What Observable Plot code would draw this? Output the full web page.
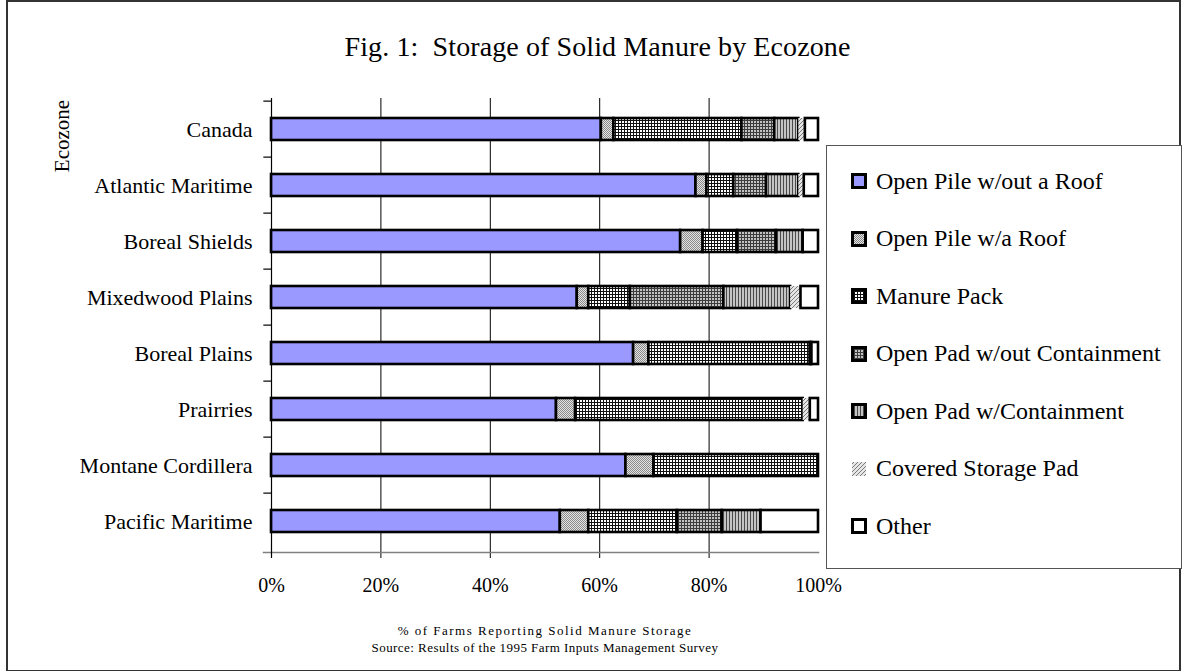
<!DOCTYPE html>
<html>
<head>
<meta charset="utf-8">
<script src="https://cdn.jsdelivr.net/npm/d3@7"></script>
<script src="https://cdn.jsdelivr.net/npm/@observablehq/plot@0.6"></script>
<style>
  html, body { margin: 0; padding: 0; background: #fff; }
  #wrap { position: relative; width: 1187px; height: 671px; overflow: hidden; font-family: "Liberation Serif", "Times New Roman", serif; color: #000; }
  #frame { position: absolute; left: 6px; top: 0px; width: 1171px; height: 668px; border: 2px solid #333; box-sizing: content-box; }
  #title { position: absolute; left: 0; width: 1195px; top: 30px; text-align: center; font-size: 28px; line-height: 34px; letter-spacing: 0.1px; }
  #chart { position: absolute; left: 0; top: 0; }
  #ytitle { position: absolute; left: 62px; top: 136px; transform: translate(-50%, -50%) rotate(-90deg); font-size: 21px; white-space: nowrap; }
  #xtitle { position: absolute; left: 545px; top: 631px; transform: translate(-50%, -50%); font-size: 13px; letter-spacing: 1.5px; white-space: nowrap; }
  #source { position: absolute; left: 545px; top: 648px; transform: translate(-50%, -50%); font-size: 13px; letter-spacing: 0.45px; white-space: nowrap; }
  #legend { position: absolute; left: 826px; top: 145px; width: 354px; height: 422px; border: 1px solid #555; background: #fff; }
  .item { position: absolute; left: 24px; height: 30px; display: flex; align-items: center; font-family: "Liberation Serif", "Times New Roman", serif; font-size: 24px; white-space: nowrap; }
  .item svg { margin-right: 9px; }
</style>
</head>
<body>
<div id="wrap">
  <svg width="0" height="0" style="position:absolute">
    <defs>
      <pattern id="pRoof" width="2" height="2" patternUnits="userSpaceOnUse">
        <rect width="2" height="2" fill="#e4e4e4"/>
        <rect width="1" height="1" fill="#8a8a8a"/>
        <rect x="1" y="1" width="1" height="1" fill="#8a8a8a"/>
      </pattern>
      <pattern id="pPack" width="3" height="3" patternUnits="userSpaceOnUse">
        <rect width="3" height="3" fill="#ffffff"/>
        <rect width="3" height="1" fill="#111"/>
        <rect width="1" height="3" fill="#111"/>
      </pattern>
      <pattern id="pPadOut" width="3" height="3" patternUnits="userSpaceOnUse">
        <rect width="3" height="3" fill="#c2c2c2"/>
        <rect width="3" height="1" fill="#3c3c3c"/>
        <rect width="1" height="3" fill="#3c3c3c"/>
      </pattern>
      <pattern id="pPadWith" width="3" height="3" patternUnits="userSpaceOnUse">
        <rect width="3" height="3" fill="#c4c4c4"/>
        <rect width="1" height="3" fill="#4a4a4a"/>
      </pattern>
      <pattern id="pCovered" width="4" height="4" patternUnits="userSpaceOnUse">
        <rect width="4" height="4" fill="#e6e6e6"/>
        <path d="M0,4 L4,0 M-1,1 L1,-1 M3,5 L5,3" stroke="#7a7a7a" stroke-width="1"/>
      </pattern>
    </defs>
  </svg>
  <div id="frame"></div>
  <div id="title">Fig. 1:&nbsp; Storage of Solid Manure by Ecozone</div>
  <div id="chart"></div>
  <div id="ytitle">Ecozone</div>
  <div id="xtitle">% of Farms Reporting Solid Manure Storage</div>
  <div id="source">Source: Results of the 1995 Farm Inputs Management Survey</div>
  <div id="legend"></div>
</div>
<script>
// ---- data ----
const zones = ["Canada", "Atlantic Maritime", "Boreal Shields", "Mixedwood Plains", "Boreal Plains", "Prairries", "Montane Cordillera", "Pacific Maritime"];
const series = ["Open Pile w/out a Roof", "Open Pile w/a Roof", "Manure Pack", "Open Pad w/out Containment", "Open Pad w/Containment", "Covered Storage Pad", "Other"];
const openPileNoRoof = [60.3, 77.6, 74.8, 55.9, 66.2, 52.1, 64.8, 52.8];
const openPileRoof   = [2.3, 2.0, 4.1, 2.1, 2.8, 3.5, 5.1, 5.2];
const manurePack     = [23.4, 4.9, 6.3, 7.6, 29.5, 41.6, 30.1, 16.2];
const openPadNoCont  = [6.0, 6.0, 7.1, 17.1, 0.3, 0, 0, 8.2];
const openPadCont    = [4.4, 5.9, 4.9, 12.2, 0, 0, 0, 7.1];
const coveredPad     = [1.2, 1.0, 0, 1.9, 0, 1.3, 0, 0];
const other          = [2.4, 2.6, 2.8, 3.2, 1.2, 1.5, 0, 10.5];
const xTicks = [0, 20, 40, 60, 80, 100];
const gridTicks = [20, 40, 60, 80];

const seriesValues = [openPileNoRoof, openPileRoof, manurePack, openPadNoCont, openPadCont, coveredPad, other];
const fills = ["#9999ff", "url(#pRoof)", "url(#pPack)", "url(#pPadOut)", "url(#pPadWith)", "url(#pCovered)", "#ffffff"];

const rows = [];
series.forEach((s, si) => {
  zones.forEach((z, zi) => {
    const v = seriesValues[si][zi];
    if (v > 0) rows.push({zone: z, series: s, value: v});
  });
});

const W = 1187, H = 600, mt = 98, mb = 48, ml = 271, mr = 369;
const step = (H - mt - mb) / zones.length;

const chart = Plot.plot({
  width: W, height: H,
  marginTop: mt, marginBottom: mb, marginLeft: ml, marginRight: mr,
  style: {fontFamily: "'Liberation Serif', 'Times New Roman', serif", color: "#000", background: "transparent"},
  x: {domain: [0, 100]},
  y: {domain: zones, paddingInner: 0.6, paddingOuter: 0.3},
  color: {domain: series, range: fills},
  marks: [
    Plot.ruleX(gridTicks, {stroke: "#000", strokeWidth: 1, insetBottom: -6}),
    Plot.barX(rows, {
      x: "value", y: "zone", fill: "series", order: series,
      stroke: "#000",
      strokeWidth: d => d.series === "Covered Storage Pad" ? 0 : 2.6
    }),
    Plot.frame({anchor: "bottom", stroke: "#808080", strokeWidth: 1.5, insetLeft: -8}),
    Plot.ruleX([0], {stroke: "#000", strokeWidth: 1.2, insetBottom: -6}),
    Plot.ruleY(zones, {y: d => d, x1: -1.4, x2: 0, dy: -step / 2, stroke: "#000", strokeWidth: 1.2}),
    Plot.axisX({ticks: xTicks, tickFormat: d => d + "%", tickSize: 0, tickPadding: 25, fontSize: 20, label: null}),
    Plot.axisY({tickSize: 0, tickPadding: 19, fontSize: 22, label: null})
  ]
});
document.getElementById("chart").appendChild(chart);

// legend
const legend = document.getElementById("legend");
const centers = series.map((s, i) => 35 + i * 57.5);
series.forEach((s, i) => {
  const div = document.createElement("div");
  div.className = "item";
  div.style.top = (centers[i] - 15) + "px";
  const noStroke = s === "Covered Storage Pad";
  div.innerHTML = `<svg width="16" height="16"><rect x="${noStroke ? 1 : 1.5}" y="${noStroke ? 1 : 1.5}" width="${noStroke ? 14 : 13}" height="${noStroke ? 14 : 13}" fill="${fills[i]}" stroke="${noStroke ? "none" : "#000"}" stroke-width="3"/></svg><span>${s}</span>`;
  legend.appendChild(div);
});
</script>
</body>
</html>
